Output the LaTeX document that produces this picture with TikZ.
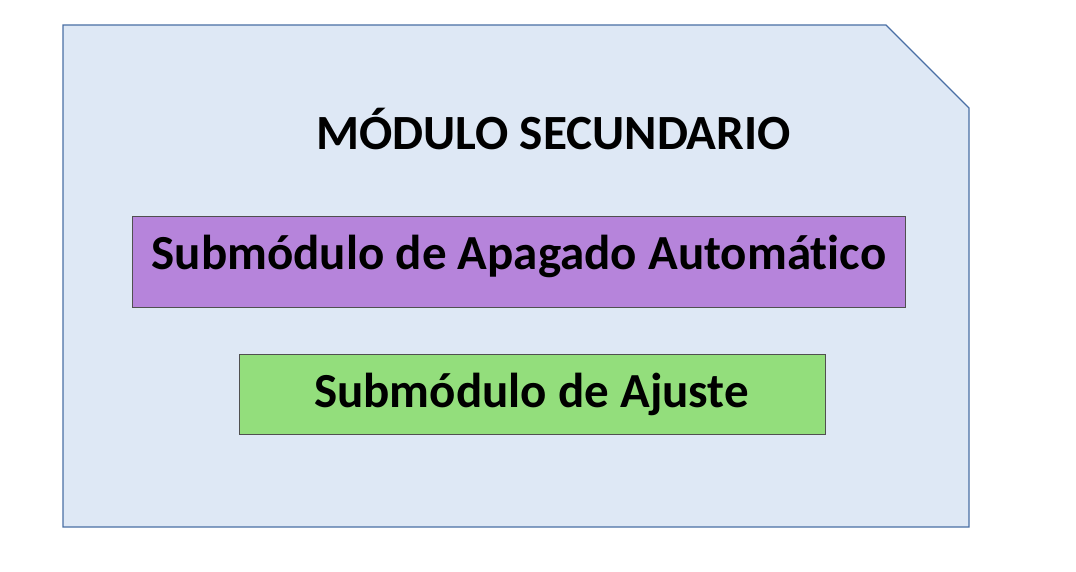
\documentclass[tikz,border=0pt]{standalone}
\usepackage{fontspec}
\setmainfont[RawFeature=-liga]{Carlito}
\definecolor{outerfill}{HTML}{DEE8F5}
\definecolor{outerline}{HTML}{4A6FA5}
\definecolor{purplefill}{HTML}{B684DB}
\definecolor{greenfill}{HTML}{93DE7C}
\definecolor{boxline}{HTML}{505050}
\tikzset{
  outershape/.style={fill=outerfill, draw=outerline, line width=1.3pt},
  subbox/.style={draw=boxline, line width=0.9pt, inner sep=0pt, anchor=north west},
  subtext/.style={font=\fontsize{49}{55}\selectfont\bfseries, text=black, anchor=base},
  titletext/.style={font=\fontsize{49.2}{55}\selectfont\bfseries, text=black, anchor=base}
}
\begin{document}
\begin{tikzpicture}[x=1pt,y=-1pt]
\useasboundingbox (0,0) rectangle (1076,572);
\fill[white] (0,0) rectangle (1076,572);
\draw[outershape] (63,25) -- (886,25) -- (969,108) -- (969,527) -- (63,527) -- cycle;
\node[titletext] (title) at (553.5,149.5) {MÓDULO SECUNDARIO};
\node[subbox, fill=purplefill, minimum width=773pt, minimum height=91pt] (apagado) at (132,216) {};
\node[subtext] (apagadotext) at ([yshift=-8pt]apagado.center) {Submódulo de Apagado Automático};
\node[subbox, fill=greenfill, minimum width=586pt, minimum height=80pt] (ajuste) at (239,354) {};
\node[subtext] (ajustetext) at ([xshift=-1pt,yshift=-13pt]ajuste.center) {Submódulo de Ajuste};
\end{tikzpicture}
\end{document}
